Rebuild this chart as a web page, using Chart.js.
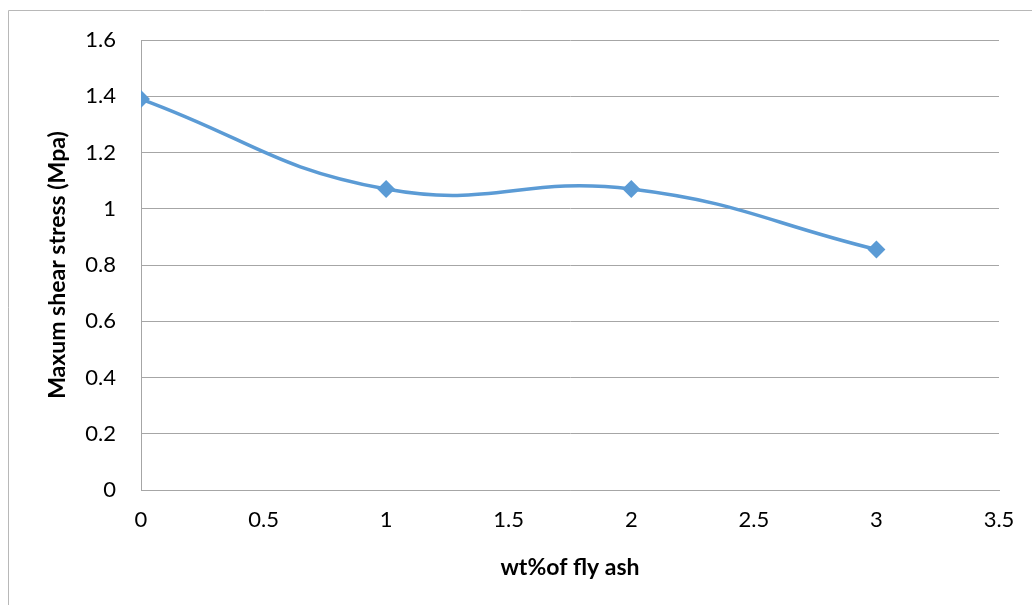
<!DOCTYPE html>
<html>
<head>
<meta charset="utf-8">
<script src="https://cdn.jsdelivr.net/npm/chart.js@4/dist/chart.umd.min.js"></script>
<style>
  html, body { margin: 0; padding: 0; background: #fff; }
  #wrap { width: 1032px; height: 605px; }
</style>
</head>
<body>
<div id="wrap"><canvas id="shear_chart" width="1032" height="605"></canvas></div>
<script>
// fly ash content (wt%) and measured max shear stress (MPa)
var flyAsh = [0, 1, 2, 3];
var shearStress = [1.39, 1.07, 1.07, 0.855];
var xTicks = [0, 0.5, 1, 1.5, 2, 2.5, 3, 3.5];
var yTicks = [0, 0.2, 0.4, 0.6, 0.8, 1, 1.2, 1.4, 1.6];

var points = flyAsh.map(function (x, i) { return { x: x, y: shearStress[i] }; });
var fontFamily = "Lato, 'Open Sans', sans-serif";

// plain number labels: 1 not 1.0
function plainLabel(value) {
  return String(Math.round(value * 10) / 10);
}

// light frame round the whole chart (only top and left edges show)
var frame = {
  id: 'frame',
  beforeDraw: function (chart) {
    var ctx = chart.ctx;
    ctx.save();
    ctx.strokeStyle = '#b8b8b8';
    ctx.lineWidth = 1;
    ctx.beginPath();
    ctx.moveTo(8.5, 605);
    ctx.lineTo(8.5, 10.5);
    ctx.lineTo(1032, 10.5);
    ctx.stroke();
    ctx.restore();
  }
};

new Chart(document.getElementById('shear_chart'), {
  type: 'scatter',
  data: {
    datasets: [{
      label: 'Max shear stress',
      data: points,
      showLine: true,
      borderColor: '#5b9bd5',
      backgroundColor: '#5b9bd5',
      borderWidth: 3.5,
      tension: 0.45,
      pointStyle: 'rectRot',
      pointRadius: 6.5,
      pointHoverRadius: 6.5
    }]
  },
  options: {
    responsive: false,
    animation: false,
    layout: { padding: { left: 8, top: 40, right: 33, bottom: 0 } },
    plugins: {
      legend: { display: false },
      tooltip: { enabled: false }
    },
    scales: {
      x: {
        type: 'linear',
        min: 0,
        max: 3.5,
        afterBuildTicks: function (axis) {
          axis.ticks = xTicks.map(function (v) { return { value: v }; });
        },
        afterFit: function (axis) { axis.height = 115; },
        grid: { display: false, drawTicks: false },
        border: { color: '#a6a6a6', width: 1 },
        ticks: {
          color: '#000',
          padding: 17,
          maxRotation: 0,
          callback: plainLabel,
          font: { family: fontFamily, size: 22 }
        },
        title: {
          display: true,
          text: 'wt%of fly ash',
          color: '#000',
          padding: { top: 0, bottom: 24 },
          font: { family: fontFamily, size: 23, weight: 'bold' }
        }
      },
      y: {
        type: 'linear',
        min: 0,
        max: 1.6,
        afterBuildTicks: function (axis) {
          axis.ticks = yTicks.map(function (v) { return { value: v }; });
        },
        afterFit: function (axis) { axis.width = 133; },
        grid: { color: '#a6a6a6', lineWidth: 1, drawTicks: false },
        border: { color: '#a6a6a6', width: 1 },
        ticks: {
          color: '#000',
          padding: 25,
          callback: plainLabel,
          font: { family: fontFamily, size: 22 }
        },
        title: {
          display: true,
          text: 'Maxum shear stress (Mpa)',
          color: '#000',
          padding: { top: 36, bottom: 0 },
          font: { family: fontFamily, size: 23, weight: 'bold' }
        }
      }
    }
  },
  plugins: [frame]
});
</script>
</body>
</html>
